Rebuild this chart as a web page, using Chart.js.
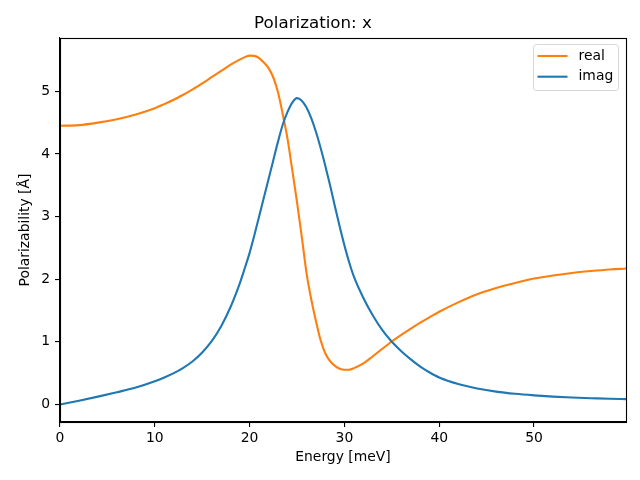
<!DOCTYPE html>
<html>
<head>
<meta charset="utf-8">
<script src="https://cdn.jsdelivr.net/npm/chart.js@4"></script>
<style>
  html, body { margin: 0; padding: 0; background: #fff; }
</style>
</head>
<body>
<canvas id="chart" width="640" height="480"></canvas>
<script>
// energy grid (meV)
const energy = [0, 2, 4, 6, 8, 10, 11, 12, 13, 14, 15, 16, 17, 18, 19, 19.5, 20, 20.5, 21, 21.5, 22, 22.5,
  23, 23.5, 24, 24.5, 25, 25.5, 26, 26.5, 27, 27.5, 28, 28.5, 29, 29.5, 30, 30.5, 31, 32, 33, 34,
  35, 36, 37, 38, 39, 40, 42, 44, 46, 48, 50, 52, 54, 56, 58, 59.7];

const realPart = [4.45, 4.46, 4.50, 4.555, 4.63, 4.73, 4.795, 4.865, 4.945, 5.03, 5.125, 5.225, 5.325, 5.425, 5.51, 5.545, 5.57, 5.565, 5.53, 5.46, 5.37, 5.22,
  4.98, 4.63, 4.24, 3.74, 3.23, 2.68, 2.10, 1.68, 1.33, 1.02, 0.81, 0.69, 0.615, 0.57, 0.553, 0.555, 0.58, 0.655, 0.77, 0.89,
  1.005, 1.11, 1.21, 1.305, 1.395, 1.48, 1.63, 1.76, 1.86, 1.94, 2.01, 2.06, 2.10, 2.13, 2.155, 2.17];

const imagPart = [0, 0.06, 0.125, 0.195, 0.27, 0.37, 0.43, 0.50, 0.585, 0.69, 0.83, 1.01, 1.25, 1.56, 1.95, 2.18, 2.42, 2.70, 3.00, 3.30, 3.60, 3.90,
  4.20, 4.47, 4.67, 4.82, 4.89, 4.85, 4.74, 4.57, 4.35, 4.09, 3.80, 3.49, 3.16, 2.84, 2.54, 2.27, 2.04, 1.70, 1.42, 1.185,
  1.00, 0.85, 0.72, 0.605, 0.51, 0.43, 0.325, 0.255, 0.205, 0.17, 0.145, 0.125, 0.11, 0.10, 0.09, 0.085];

const xTicks = [0, 10, 20, 30, 40, 50];
const yTicks = [0, 1, 2, 3, 4, 5];

const FONT = "'DejaVu Sans', sans-serif";
const ORANGE = '#ff7f0e';
const BLUE = '#1f77b4';

function toPoints(xs, ys) {
  return xs.map((x, i) => ({ x: x, y: ys[i] }));
}

// box around the plot + legend in the top right corner
const framePlugin = {
  id: 'frame',
  afterDraw(chart) {
    const a = chart.chartArea;
    const ctx = chart.ctx;
    ctx.save();
    ctx.strokeStyle = '#000';
    ctx.lineWidth = 1.1;
    ctx.strokeRect(Math.round(a.left) + 0.5, Math.round(a.top) + 0.5,
      Math.round(a.right - a.left), Math.round(a.bottom - a.top));

    // legend
    const items = [
      { label: 'real', color: ORANGE },
      { label: 'imag', color: BLUE }
    ];
    const bx = 533.5, by = 44.5, bw = 85, bh = 46, r = 3;
    ctx.beginPath();
    ctx.moveTo(bx + r, by);
    ctx.lineTo(bx + bw - r, by);
    ctx.arcTo(bx + bw, by, bx + bw, by + r, r);
    ctx.lineTo(bx + bw, by + bh - r);
    ctx.arcTo(bx + bw, by + bh, bx + bw - r, by + bh, r);
    ctx.lineTo(bx + r, by + bh);
    ctx.arcTo(bx, by + bh, bx, by + bh - r, r);
    ctx.lineTo(bx, by + r);
    ctx.arcTo(bx, by, bx + r, by, r);
    ctx.closePath();
    ctx.fillStyle = 'rgba(255,255,255,0.8)';
    ctx.fill();
    ctx.strokeStyle = '#d6d6d6';
    ctx.lineWidth = 1;
    ctx.stroke();

    ctx.font = '13.9px ' + FONT;
    ctx.textBaseline = 'middle';
    ctx.textAlign = 'left';
    items.forEach((it, i) => {
      const y = 56 + i * 20.7;
      ctx.strokeStyle = it.color;
      ctx.lineWidth = 2.1;
      ctx.beginPath();
      ctx.moveTo(537.5, y);
      ctx.lineTo(567.5, y);
      ctx.stroke();
      ctx.fillStyle = '#000';
      ctx.fillText(it.label, 578.5, y);
    });
    ctx.restore();
  }
};

Chart.defaults.font.family = FONT;
Chart.defaults.color = '#000';

new Chart(document.getElementById('chart'), {
  type: 'line',
  data: {
    datasets: [
      {
        label: 'imag',
        data: toPoints(energy, imagPart),
        borderColor: BLUE,
        borderWidth: 2.1,
        pointRadius: 0,
        fill: false,
        cubicInterpolationMode: 'monotone'
      },
      {
        label: 'real',
        data: toPoints(energy, realPart),
        borderColor: ORANGE,
        borderWidth: 2.1,
        pointRadius: 0,
        fill: false,
        cubicInterpolationMode: 'monotone'
      }
    ]
  },
  options: {
    responsive: false,
    animation: false,
    devicePixelRatio: 1,
    layout: { padding: { left: 0, right: 14, top: 0, bottom: 0 } },
    plugins: {
      legend: { display: false },
      tooltip: { enabled: false },
      title: {
        display: true,
        text: 'Polarization: x',
        color: '#000',
        font: { size: 16.7, weight: 'normal', family: FONT },
        padding: { top: 14, bottom: 4 }
      }
    },
    scales: {
      x: {
        type: 'linear',
        min: 0,
        max: 59.7,
        afterBuildTicks: (s) => { s.ticks = xTicks.map(v => ({ value: v })); },
        afterFit: (s) => { s.height = 58; },
        grid: { drawOnChartArea: false, drawTicks: true, tickLength: 5, color: '#000', lineWidth: 1.1 },
        border: { display: true, color: '#000', width: 1.1 },
        ticks: { font: { size: 13.9 }, padding: 3, maxRotation: 0 },
        title: { display: true, text: 'Energy [meV]', font: { size: 13.9 }, padding: { top: 0, bottom: 14 } }
      },
      y: {
        type: 'linear',
        min: -0.28,
        max: 5.85,
        afterBuildTicks: (s) => { s.ticks = yTicks.map(v => ({ value: v })); },
        afterFit: (s) => { s.width = 60; },
        grid: { drawOnChartArea: false, drawTicks: true, tickLength: 5, color: '#000', lineWidth: 1.1 },
        border: { display: true, color: '#000', width: 1.1 },
        ticks: { font: { size: 13.9 }, padding: 5 },
        title: { display: true, text: 'Polarizability [Å]', font: { size: 13.9 }, padding: { top: 17.5, bottom: 0 } }
      }
    }
  },
  plugins: [framePlugin]
});
</script>
</body>
</html>
